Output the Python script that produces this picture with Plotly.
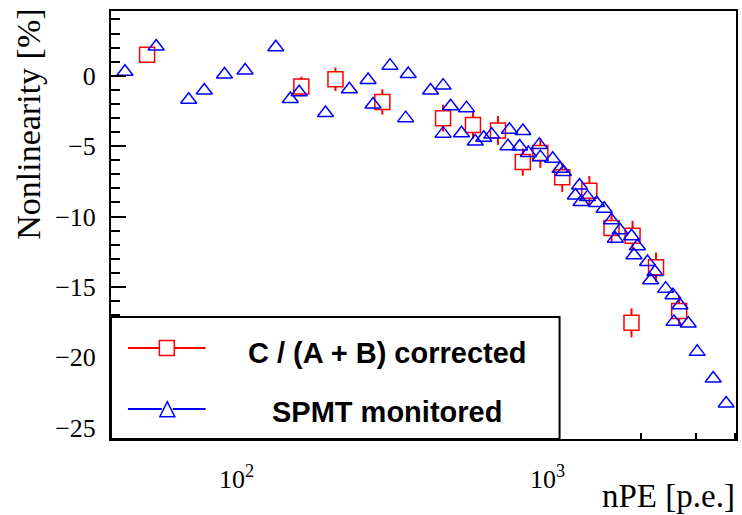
import plotly.graph_objects as go

# ---------------- data ----------------
blue_npe = [43.8, 55.2, 70.2, 78.8, 91.5, 106.6, 133.8, 149.0, 159.0, 193.3,
            230.7, 264.9, 274.8, 311.6, 349.9, 356.6, 420.7, 461.7, 461.7, 488.0,
            529.0, 548.9, 585.7, 623.7, 661.5, 754.4, 746.1, 833.4, 813.5, 868.0,
            941.2, 948.4, 1039, 1098, 1125, 1229, 1267, 1282, 1345, 1439,
            1521, 1606, 1652, 1711, 1863, 1946, 1897, 2097, 2216, 2146,
            2398, 2531, 2665, 2550, 2835, 3029, 3410, 3753]
blue_nl = [0.28, 2.08, -1.70, -1.05, 0.09, 0.37, 2.02, -1.65, -1.17, -2.64,
           -0.96, -0.30, -2.04, 0.72, -3.01, 0.13, -1.05, -0.70, -4.11, -2.16,
           -4.08, -2.30, -4.67, -4.40, -4.18, -3.84, -5.00, -3.92, -5.02, -5.48,
           -4.91, -5.78, -5.90, -6.61, -6.84, -8.50, -7.79, -8.97, -8.62, -9.04,
           -9.45, -10.27, -11.57, -10.98, -11.40, -12.11, -12.75, -13.23, -13.94, -14.52,
           -15.12, -15.59, -16.30, -17.48, -17.60, -19.61, -21.50, -23.28]

red_npe = [51.6, 161.6, 208.1, 294.4, 461.5, 575.9, 692.9, 832.8, 948.4, 1115,
           1363, 1606, 1877, 1862, 2233, 2650]
red_nl = [1.50, -0.76, -0.25, -1.86, -3.01, -3.49, -3.89, -6.13, -5.48, -7.21,
          -8.16, -10.82, -11.36, -17.55, -13.60, -16.70]
red_err = [0.40, 0.69, 0.83, 0.90, 0.95, 1.00, 1.03, 0.97, 1.06, 1.04,
           1.04, 1.09, 1.06, 1.03, 1.04, 1.06]

x_tickvals = [100, 1000]
x_ticktext = ["10<sup>2</sup>", "10<sup>3</sup>"]
x_minor = [50, 60, 70, 80, 90, 200, 300, 400, 500, 600, 700, 800, 900,
           2000, 3000, 4000]

legend_labels = ["C / (A + B) corrected", "SPMT monitored"]

# ---------------- layout geometry ----------------
W, H = 742, 515
L, R, T, B = 111, 738, 11, 439
YMIN, YMAX = -25.8, 4.6
XR = [1.5966, 3.606]
px_per_unit = (B - T) / (YMAX - YMIN)
SQ = 15  # square marker size (px)
half_sq = (SQ / 2) / px_per_unit

RED = "#ff0000"
BLUE = "#0000ff"

fig = go.Figure()

# error bars outside the open squares
ex, ey = [], []
for x, y, e in zip(red_npe, red_nl, red_err):
    if e > half_sq:
        ex += [x, x, None, x, x, None]
        ey += [y + half_sq, y + e, None, y - half_sq, y - e, None]
fig.add_trace(go.Scatter(x=ex, y=ey, mode="lines", line=dict(color=RED, width=2),
                         hoverinfo="skip", showlegend=False))

fig.add_trace(go.Scatter(x=red_npe, y=red_nl, mode="markers", showlegend=False,
                         marker=dict(symbol="square-open", size=SQ, color=RED,
                                     line=dict(color=RED, width=1.5))))
fig.add_trace(go.Scatter(x=blue_npe, y=blue_nl, mode="markers", showlegend=False,
                         marker=dict(symbol="triangle-up-open", size=14, color=BLUE,
                                     line=dict(color=BLUE, width=1.5))))

def PX(px):
    return (px - L) / (R - L)

def PY(py):
    return (B - py) / (B - T)

shapes = []
# legend box
shapes.append(dict(type="rect", xref="paper", yref="paper", layer="above",
                   x0=PX(L), x1=PX(561), y0=PY(B), y1=PY(317),
                   fillcolor="white", line=dict(color="black", width=2)))
# legend red entry
ry = 348
shapes.append(dict(type="line", xref="paper", yref="paper", layer="above",
                   x0=PX(128), x1=PX(159.5), y0=PY(ry), y1=PY(ry), line=dict(color=RED, width=2)))
shapes.append(dict(type="line", xref="paper", yref="paper", layer="above",
                   x0=PX(174.5), x1=PX(206), y0=PY(ry), y1=PY(ry), line=dict(color=RED, width=2)))
shapes.append(dict(type="rect", xref="paper", yref="paper", layer="above",
                   x0=PX(159.5), x1=PX(174.5), y0=PY(ry + 7.5), y1=PY(ry - 7.5),
                   line=dict(color=RED, width=1.5)))
# legend blue entry
by = 409
shapes.append(dict(type="line", xref="paper", yref="paper", layer="above",
                   x0=PX(128), x1=PX(162), y0=PY(by), y1=PY(by), line=dict(color=BLUE, width=2)))
shapes.append(dict(type="line", xref="paper", yref="paper", layer="above",
                   x0=PX(173), x1=PX(206), y0=PY(by), y1=PY(by), line=dict(color=BLUE, width=2)))
tri = "M {:.5f},{:.5f} L {:.5f},{:.5f} L {:.5f},{:.5f} Z".format(
    PX(160), PY(416.7), PX(175), PY(416.7), PX(167.5), PY(401.7))
shapes.append(dict(type="path", xref="paper", yref="paper", layer="above",
                   path=tri, line=dict(color=BLUE, width=1.5)))

annotations = [
    dict(text="<b>" + legend_labels[0] + "</b>", xref="paper", yref="paper",
         x=PX(388), y=PY(353), xanchor="center", yanchor="middle", showarrow=False,
         font=dict(family="Liberation Sans", size=29, color="black")),
    dict(text="<b>" + legend_labels[1] + "</b>", xref="paper", yref="paper",
         x=PX(388), y=PY(412), xanchor="center", yanchor="middle", showarrow=False,
         font=dict(family="Liberation Sans", size=29, color="black")),
    dict(text="Nonlinearity [%]", xref="paper", yref="paper", textangle=-90,
         x=PX(28), y=PY(7), xanchor="center", yanchor="top", showarrow=False,
         font=dict(family="Liberation Serif", size=34, color="black")),
    dict(text="nPE [p.e.]", xref="paper", yref="paper",
         x=PX(739), y=PY(496), xanchor="right", yanchor="middle", showarrow=False,
         font=dict(family="Liberation Serif", size=33, color="black")),
]

fig.update_layout(
    width=W, height=H,
    margin=dict(l=L, r=W - R, t=T, b=H - B, pad=0),
    paper_bgcolor="white", plot_bgcolor="white",
    showlegend=False,
    shapes=shapes, annotations=annotations,
    xaxis=dict(type="log", range=XR, showgrid=False, zeroline=False,
               showline=True, linecolor="black", linewidth=2, mirror=True,
               ticks="inside", ticklen=12, tickwidth=1.5, tickcolor="black",
               tickvals=x_tickvals, ticktext=x_ticktext, ticklabelstandoff=16,
               tickfont=dict(family="Liberation Serif", size=26, color="black"),
               minor=dict(tickvals=x_minor, ticks="inside", ticklen=6,
                          tickwidth=1.5, tickcolor="black", showgrid=False)),
    yaxis=dict(range=[YMIN, YMAX], showgrid=False, zeroline=False,
               showline=True, linecolor="black", linewidth=2, mirror=True,
               ticks="inside", ticklen=15, tickwidth=1.5, tickcolor="black",
               dtick=5, tick0=0, ticklabelstandoff=8,
               tickfont=dict(family="Liberation Serif", size=26, color="black"),
               minor=dict(dtick=1, ticks="inside", ticklen=9, tickwidth=1.5,
                          tickcolor="black", showgrid=False)),
)

fig.write_html("out.html", config={"displayModeBar": False},
               post_script="document.body.style.margin='0';document.body.style.overflow='hidden';")
